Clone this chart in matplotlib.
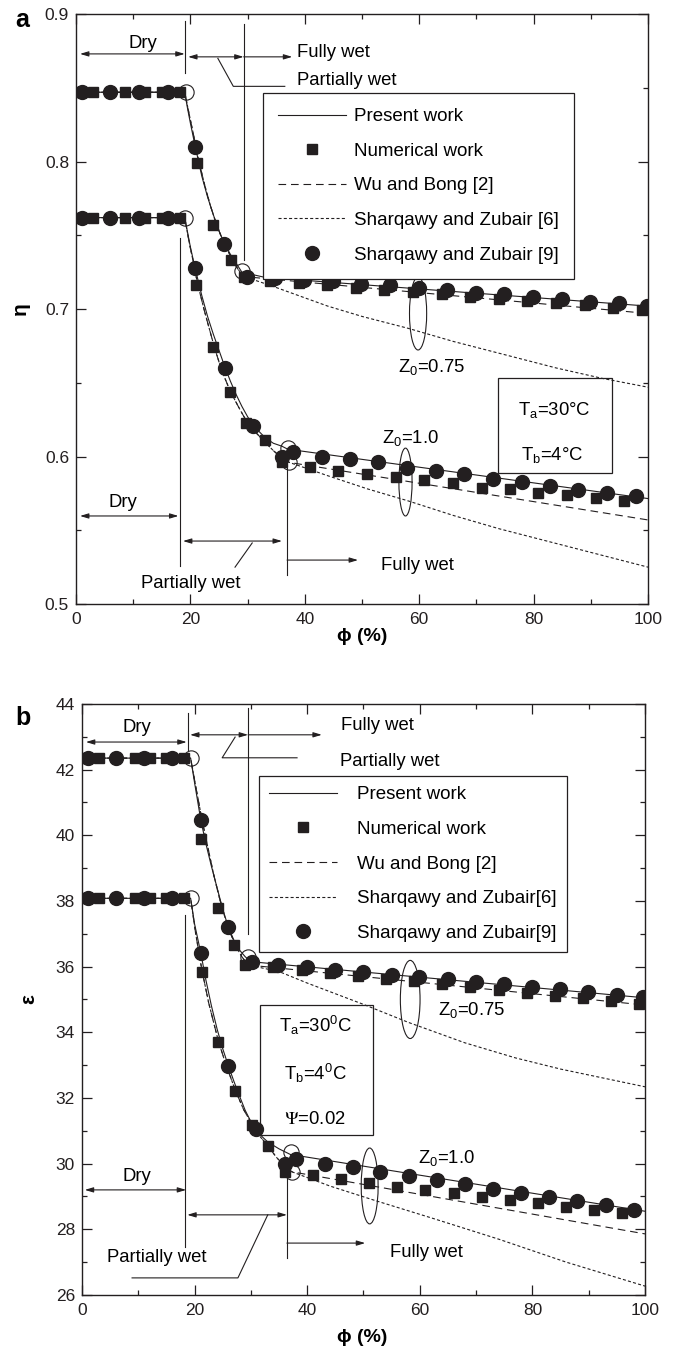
"""Fin efficiency (a) and effectiveness (b) versus relative humidity, redrawn."""

import matplotlib
matplotlib.use("Agg")
import matplotlib.pyplot as plt
from matplotlib.patches import Ellipse, Rectangle
from matplotlib.ticker import MultipleLocator

plt.rcParams["font.family"] = ["Liberation Sans", "DejaVu Sans"]
plt.rcParams["mathtext.default"] = "regular"
plt.rcParams["lines.scale_dashes"] = False

INK = "#231f20"
LW = 0.8

# ---------------- panel a: efficiency eta ----------------
dry_sq_phi = [0, 3, 8.5, 12, 15, 18.2]
dry_ci_phi = [1, 6, 11, 16]
a_eta_dry_075 = 0.847
a_eta_dry_100 = 0.762

# Z0 = 0.75
a075_line_phi = [0, 19, 19.5, 20, 20.8, 22, 23, 24, 25, 26, 27, 28, 29, 33, 100]
a075_line_eta = [0.847, 0.847, 0.836, 0.826, 0.811, 0.790, 0.776, 0.764, 0.753, 0.744,
                 0.737, 0.731, 0.725, 0.7215, 0.702]
a075_wu_phi = [0, 19, 19.9, 20.5, 21.3, 22.5, 23.5, 24.5, 25.5, 26.5, 27.5, 28.5, 29.4, 100]
a075_wu_eta = [0.847, 0.847, 0.830, 0.819, 0.803, 0.784, 0.770, 0.758, 0.748, 0.740,
               0.732, 0.726, 0.722, 0.697]
a075_s6_phi = [0, 19, 19.9, 20.5, 21.3, 22.5, 23.5, 24.5, 25.5, 26.5, 27.5, 28.5, 29.4,
               34, 39, 44, 50, 58, 66, 75, 84, 92, 100]
a075_s6_eta = [0.847, 0.847, 0.830, 0.819, 0.803, 0.784, 0.770, 0.758, 0.748, 0.740,
               0.732, 0.726, 0.722, 0.716, 0.709, 0.702, 0.695, 0.687, 0.678, 0.669,
               0.660, 0.653, 0.647]
a075_num_phi = [21.1, 24.0, 27.1, 29.4, 33.9, 38.9, 43.9, 48.9, 53.9, 58.9, 63.9, 68.9,
                73.9, 78.9, 83.9, 88.9, 93.9, 98.9]
a075_num_eta = [0.799, 0.757, 0.733, 0.722, 0.719, 0.7175, 0.716, 0.7145, 0.713, 0.7115,
                0.710, 0.7085, 0.707, 0.7055, 0.704, 0.7025, 0.701, 0.6995]
a075_s9_phi = [20.8, 25.9, 29.9, 34.8, 39.9, 44.9, 49.9, 54.9, 59.9, 64.9, 69.9, 74.9,
               79.9, 84.9, 89.9, 94.9, 99.9]
a075_s9_eta = [0.810, 0.744, 0.722, 0.721, 0.720, 0.719, 0.717, 0.716, 0.714, 0.713,
               0.711, 0.710, 0.708, 0.707, 0.705, 0.704, 0.702]

# Z0 = 1.0
a100_line_phi = [0, 19, 19.5, 20, 20.8, 22, 23, 24, 25, 26, 27, 28, 29, 30, 31, 32, 33,
                 34.5, 36, 37, 100]
a100_line_eta = [0.762, 0.762, 0.752, 0.742, 0.728, 0.709, 0.695, 0.683, 0.672, 0.661,
                 0.651, 0.642, 0.634, 0.627, 0.621, 0.617, 0.613, 0.609, 0.607, 0.605,
                 0.5715]
a100_wu_phi = [0, 19, 19.8, 20.5, 21.2, 22.5, 24.2, 25.5, 27, 28.5, 29.8, 31.5, 33, 34.5,
               36, 37.3, 100]
a100_wu_eta = [0.762, 0.762, 0.745, 0.732, 0.718, 0.698, 0.674, 0.658, 0.644, 0.633,
               0.624, 0.616, 0.610, 0.604, 0.599, 0.596, 0.557]
a100_s6_phi = [0, 19, 19.8, 20.5, 21.2, 22.5, 24.2, 25.5, 27, 28.5, 29.8, 31.5, 33, 34.5,
               36, 37.3, 44, 51, 58, 66, 74, 81, 88, 94, 100]
a100_s6_eta = [0.762, 0.762, 0.745, 0.732, 0.718, 0.698, 0.674, 0.658, 0.644, 0.633,
               0.624, 0.616, 0.610, 0.604, 0.599, 0.596, 0.587, 0.578, 0.570, 0.560,
               0.551, 0.544, 0.537, 0.531, 0.525]
a100_num_phi = [21.0, 24.0, 26.9, 29.8, 33.0, 36.0, 40.9, 45.8, 50.8, 55.9, 60.9, 65.9,
                71.0, 75.9, 80.8, 85.8, 90.9, 95.8]
a100_num_eta = [0.716, 0.674, 0.644, 0.623, 0.611, 0.596, 0.593, 0.590, 0.588, 0.586,
                0.584, 0.582, 0.579, 0.578, 0.575, 0.574, 0.572, 0.570]
a100_s9_phi = [20.8, 26.0, 31.0, 36.0, 37.9, 43.0, 47.9, 52.8, 57.9, 62.9, 67.8, 72.9,
               78.0, 82.9, 87.8, 92.8, 97.9]
a100_s9_eta = [0.728, 0.660, 0.621, 0.600, 0.603, 0.600, 0.598, 0.596, 0.592, 0.590,
               0.588, 0.585, 0.583, 0.580, 0.577, 0.575, 0.573]

a_knee_phi = [19.3, 19.1, 29.0, 37.0, 37.3]
a_knee_eta = [0.847, 0.762, 0.726, 0.606, 0.596]

# ---------------- panel b: effectiveness eps ----------------
b_dry_sq_phi = [0, 3, 9.4, 12, 15, 18.2]
b_eps_dry_075 = 42.35
b_eps_dry_100 = 38.08

b075_line_phi = [0, 19.3, 20, 21.1, 22, 23, 24, 25, 26, 27, 28, 29, 30, 100]
b075_line_eps = [42.35, 42.35, 41.6, 40.47, 39.75, 39.05, 38.4, 37.75, 37.2, 36.8, 36.5,
                 36.3, 36.15, 35.05]
b075_wu_phi = [0, 19.3, 20.3, 21.4, 22.4, 23.4, 24.4, 25.4, 26.4, 27.4, 28.4, 29.5, 100]
b075_wu_eps = [42.35, 42.35, 41.4, 40.4, 39.6, 38.8, 38.1, 37.5, 37.0, 36.6, 36.3, 36.05,
               34.83]
b075_s6_phi = [0, 19.3, 20.3, 21.4, 22.4, 23.4, 24.4, 25.4, 26.4, 27.4, 28.4, 29.5,
               35, 40, 50, 58, 68, 77, 85, 100]
b075_s6_eps = [42.35, 42.35, 41.4, 40.4, 39.6, 38.8, 38.1, 37.5, 37.0, 36.6, 36.3, 36.05,
               35.85, 35.5, 34.85, 34.3, 33.68, 33.22, 32.88, 32.34]
b075_num_phi = [21.1, 24.2, 27.0, 29.0, 34, 39, 44, 49, 54, 59, 64, 69, 74, 79, 84, 89,
                94, 99]
b075_num_eps = [39.9, 37.8, 36.66, 36.05, 35.98, 35.9, 35.8, 35.72, 35.63, 35.55, 35.46,
                35.37, 35.29, 35.2, 35.12, 35.03, 34.95, 34.86]
b075_s9_phi = [21.1, 25.9, 30.2, 34.8, 40, 45, 50, 55, 59.9, 65, 70, 75, 80, 84.9, 89.9,
               95, 99.6]
b075_s9_eps = [40.47, 37.2, 36.14, 36.06, 35.99, 35.91, 35.84, 35.76, 35.69, 35.61, 35.53,
               35.46, 35.38, 35.31, 35.23, 35.15, 35.08]

b100_line_phi = [0, 19.3, 20, 21.1, 22, 23, 24, 25, 26, 27, 28, 29, 30, 31, 32, 33, 35,
                 37, 100]
b100_line_eps = [38.08, 38.08, 37.3, 36.42, 35.6, 34.8, 34.1, 33.5, 32.98, 32.5, 32.05,
                 31.62, 31.28, 31.02, 30.82, 30.66, 30.45, 30.28, 28.55]
b100_wu_phi = [0, 19.3, 20.2, 21.3, 22.5, 24.2, 25.5, 27.2, 28.7, 30.2, 31.5, 33, 34.5,
               36, 37.3, 100]
b100_wu_eps = [38.08, 38.08, 37.0, 35.9, 34.9, 33.75, 33.05, 32.25, 31.65, 31.2, 30.85,
               30.55, 30.2, 29.92, 29.75, 27.86]
b100_s6_phi = [0, 19.3, 20.2, 21.3, 22.5, 24.2, 25.5, 27.2, 28.7, 30.2, 31.5, 33, 34.5,
               36, 37.3, 44, 52, 62, 74, 86, 100]
b100_s6_eps = [38.08, 38.08, 37.0, 35.9, 34.9, 33.75, 33.05, 32.25, 31.65, 31.2, 30.85,
               30.55, 30.2, 29.92, 29.75, 29.32, 28.88, 28.35, 27.7, 27.0, 26.27]
b100_num_phi = [21.3, 24.2, 27.2, 30.2, 33.0, 36.1, 41, 46, 51, 56, 61, 66, 71, 76, 81,
                86, 91, 96]
b100_num_eps = [35.84, 33.71, 32.2, 31.18, 30.54, 29.75, 29.66, 29.53, 29.41, 29.29, 29.2,
                29.1, 28.98, 28.9, 28.8, 28.68, 28.6, 28.5]
b100_s9_phi = [21.1, 26.0, 30.9, 36.1, 38.0, 43.2, 48.2, 53, 58.1, 63, 68, 73, 78, 83, 88,
               93, 98]
b100_s9_eps = [36.42, 32.98, 31.06, 30.0, 30.14, 30.0, 29.9, 29.75, 29.62, 29.5, 29.38,
               29.23, 29.1, 28.98, 28.86, 28.74, 28.6]

b_knee_phi = [19.3, 19.3, 29.5, 37.1, 37.3]
b_knee_eps = [42.35, 38.08, 36.3, 30.36, 29.75]

TEXT_FS = 13.3


def draw_set(ax, line, wu, s6, num, s9, labels):
    """One Z0 family: present line, Wu dashed, Sharqawy[6] dotted, two marker sets."""
    lab = labels if labels else ["_nolegend_"] * 5
    ax.plot(*line, color=INK, lw=LW, label=lab[0], zorder=2)
    ax.plot(*num, ls="none", marker="s", ms=7.5, color=INK, label=lab[1], zorder=3)
    ax.plot(*wu, color=INK, lw=LW, dashes=(5.5, 3.5), label=lab[2], zorder=2)
    ax.plot(*s6, color=INK, lw=LW, dashes=(2.2, 1.6), label=lab[3], zorder=2)
    ax.plot(*s9, ls="none", marker="o", ms=10, color=INK, label=lab[4], zorder=4)


def style_axes(ax, ylim, ymajor, yminor):
    ax.set_xlim(0, 100)
    ax.set_ylim(*ylim)
    ax.xaxis.set_major_locator(MultipleLocator(20))
    ax.xaxis.set_minor_locator(MultipleLocator(10))
    ax.yaxis.set_major_locator(MultipleLocator(ymajor))
    ax.yaxis.set_minor_locator(MultipleLocator(yminor))
    ax.tick_params(which="both", direction="in", top=True, right=True, colors=INK,
                   labelsize=12.5, width=0.9)
    ax.tick_params(which="major", length=7)
    ax.tick_params(which="minor", length=3.5)
    ax.tick_params(axis="x", pad=6)
    ax.tick_params(axis="y", pad=5)
    for s in ax.spines.values():
        s.set_linewidth(1.0)
        s.set_color(INK)


def harrow(ax, x0, x1, y, both=True):
    style = "<|-|>" if both else "-|>"
    ax.annotate("", xy=(x1, y), xytext=(x0, y),
                arrowprops=dict(arrowstyle=style + ",head_length=0.5,head_width=0.15",
                                color=INK, lw=LW, shrinkA=0, shrinkB=0), zorder=3)


def seg(ax, xs, ys):
    ax.plot(xs, ys, color=INK, lw=LW, zorder=2)


def legend(ax, anchor, labels_pad, pad):
    leg = ax.legend(loc="upper left", bbox_to_anchor=anchor, fontsize=13.5,
                    frameon=True, fancybox=False, framealpha=1, edgecolor=INK,
                    handlelength=3.6, handletextpad=labels_pad, labelspacing=0.93,
                    borderpad=pad, borderaxespad=0, numpoints=1)
    leg.get_frame().set_linewidth(0.9)
    return leg


fig = plt.figure(figsize=(6.78, 13.54), dpi=100)
ax_a = fig.add_axes([0.1121, 0.5539, 0.8437, 0.4357])
ax_b = fig.add_axes([0.1209, 0.0436, 0.8304, 0.4365])

# ---- panel a ----
draw_set(ax_a, (a075_line_phi, a075_line_eta), (a075_wu_phi, a075_wu_eta),
         (a075_s6_phi, a075_s6_eta),
         (dry_sq_phi + a075_num_phi, [a_eta_dry_075] * len(dry_sq_phi) + a075_num_eta),
         (dry_ci_phi + a075_s9_phi, [a_eta_dry_075] * len(dry_ci_phi) + a075_s9_eta),
         ["Present work", "Numerical work", "Wu and Bong [2]",
          "Sharqawy and Zubair [6]", "Sharqawy and Zubair [9]"])
draw_set(ax_a, (a100_line_phi, a100_line_eta), (a100_wu_phi, a100_wu_eta),
         (a100_s6_phi, a100_s6_eta),
         (dry_sq_phi + a100_num_phi, [a_eta_dry_100] * len(dry_sq_phi) + a100_num_eta),
         (dry_ci_phi + a100_s9_phi, [a_eta_dry_100] * len(dry_ci_phi) + a100_s9_eta),
         None)
ax_a.plot(a_knee_phi, a_knee_eta, ls="none", marker="o", ms=11, mfc="none", mec=INK,
          mew=0.8, zorder=5)
style_axes(ax_a, (0.5, 0.9), 0.1, 0.05)
legend(ax_a, (0.327, 0.866), 0.45, 0.8)

# upper annotations
seg(ax_a, [19.0, 19.0], [0.895, 0.860])
seg(ax_a, [29.3, 29.3], [0.893, 0.733])
harrow(ax_a, 0.7, 19.0, 0.873)
ax_a.text(11.7, 0.880, "Dry", fontsize=TEXT_FS, ha="center", va="center")
harrow(ax_a, 19.6, 29.3, 0.871)
harrow(ax_a, 29.3, 37.8, 0.871, both=False)
ax_a.text(38.6, 0.874, "Fully wet", fontsize=TEXT_FS, ha="left", va="center")
seg(ax_a, [24.8, 27.5, 36.5], [0.870, 0.851, 0.851])
ax_a.text(38.6, 0.855, "Partially wet", fontsize=TEXT_FS, ha="left", va="center")

# lower annotations
seg(ax_a, [18.2, 18.2], [0.748, 0.526])
harrow(ax_a, 0.7, 17.9, 0.5597)
ax_a.text(8.2, 0.569, "Dry", fontsize=TEXT_FS, ha="center", va="center")
harrow(ax_a, 18.7, 36.0, 0.5427)
seg(ax_a, [30.8, 27.8], [0.5414, 0.525])
ax_a.text(20.1, 0.514, "Partially wet", fontsize=TEXT_FS, ha="center", va="center")
seg(ax_a, [36.9, 36.9], [0.592, 0.5197])
harrow(ax_a, 36.9, 49.3, 0.5298, both=False)
ax_a.text(53.3, 0.5264, "Fully wet", fontsize=TEXT_FS, ha="left", va="center")

ax_a.add_patch(Ellipse((59.8, 0.697), 3.0, 0.0495, fill=False, ec=INK, lw=LW, zorder=3))
ax_a.add_patch(Ellipse((57.6, 0.5827), 2.3, 0.046, fill=False, ec=INK, lw=LW, zorder=3))
ax_a.text(56.3, 0.6607, "Z$_0$=0.75", fontsize=TEXT_FS, ha="left", va="center")
ax_a.text(53.5, 0.6125, "Z$_0$=1.0", fontsize=TEXT_FS, ha="left", va="center")
ax_a.add_patch(Rectangle((73.8, 0.5888), 19.9, 0.0644, fill=False, ec=INK, lw=0.9,
                         zorder=3))
ax_a.text(83.6, 0.6315, "T$_a$=30°C", fontsize=TEXT_FS, ha="center", va="center")
ax_a.text(83.2, 0.601, "T$_b$=4°C", fontsize=TEXT_FS, ha="center", va="center")

ax_a.set_xlabel("\u03d5 (%)", fontsize=14, fontweight="bold")
ax_a.set_ylabel("\u03b7", fontsize=15, fontweight="bold")
ax_a.xaxis.set_label_coords(0.5, -0.04)
ax_a.yaxis.set_label_coords(-0.08, 0.5)

# ---- panel b ----
draw_set(ax_b, (b075_line_phi, b075_line_eps), (b075_wu_phi, b075_wu_eps),
         (b075_s6_phi, b075_s6_eps),
         (b_dry_sq_phi + b075_num_phi, [b_eps_dry_075] * len(b_dry_sq_phi) + b075_num_eps),
         (dry_ci_phi + b075_s9_phi, [b_eps_dry_075] * len(dry_ci_phi) + b075_s9_eps),
         ["Present work", "Numerical work", "Wu and Bong [2]",
          "Sharqawy and Zubair[6]", "Sharqawy and Zubair[9]"])
draw_set(ax_b, (b100_line_phi, b100_line_eps), (b100_wu_phi, b100_wu_eps),
         (b100_s6_phi, b100_s6_eps),
         (b_dry_sq_phi + b100_num_phi, [b_eps_dry_100] * len(b_dry_sq_phi) + b100_num_eps),
         (dry_ci_phi + b100_s9_phi, [b_eps_dry_100] * len(dry_ci_phi) + b100_s9_eps),
         None)
ax_b.plot(b_knee_phi, b_knee_eps, ls="none", marker="o", ms=11, mfc="none", mec=INK,
          mew=0.8, zorder=5)
style_axes(ax_b, (26, 44), 2, 1)
legend(ax_b, (0.314, 0.878), 1.1, 0.55)

# upper annotations
seg(ax_b, [18.8, 18.8], [43.73, 42.6])
seg(ax_b, [29.5, 29.5], [43.87, 37.0])
harrow(ax_b, 0.7, 18.6, 42.84)
ax_b.text(9.7, 43.27, "Dry", fontsize=TEXT_FS, ha="center", va="center")
harrow(ax_b, 19.2, 29.5, 43.06)
harrow(ax_b, 29.5, 42.6, 43.06, both=False)
ax_b.text(46.0, 43.33, "Fully wet", fontsize=TEXT_FS, ha="left", va="center")
seg(ax_b, [27.2, 24.9, 38.2], [42.99, 42.36, 42.36])
ax_b.text(45.8, 42.24, "Partially wet", fontsize=TEXT_FS, ha="left", va="center")

# lower annotations
seg(ax_b, [18.3, 18.3], [37.57, 27.46])
harrow(ax_b, 0.5, 18.5, 29.2)
ax_b.text(9.7, 29.6, "Dry", fontsize=TEXT_FS, ha="center", va="center")
harrow(ax_b, 18.7, 36.4, 28.44)
seg(ax_b, [33.0, 27.7, 8.9], [28.44, 26.52, 26.52])
ax_b.text(13.3, 27.13, "Partially wet", fontsize=TEXT_FS, ha="center", va="center")
seg(ax_b, [36.4, 36.4], [29.6, 27.13])
harrow(ax_b, 36.4, 50.3, 27.58, both=False)
ax_b.text(54.7, 27.3, "Fully wet", fontsize=TEXT_FS, ha="left", va="center")

ax_b.add_patch(Ellipse((58.3, 35.0), 3.5, 2.38, fill=False, ec=INK, lw=LW, zorder=3))
ax_b.add_patch(Ellipse((51.1, 29.32), 3.0, 2.31, fill=False, ec=INK, lw=LW, zorder=3))
ax_b.text(63.2, 34.68, "Z$_0$=0.75", fontsize=TEXT_FS, ha="left", va="center")
ax_b.text(59.7, 30.17, "Z$_0$=1.0", fontsize=TEXT_FS, ha="left", va="center")
ax_b.add_patch(Rectangle((31.6, 30.87), 20.1, 3.96, fill=False, ec=INK, lw=0.9,
                         zorder=3))
ax_b.text(41.4, 34.22, "T$_a$=30$^0$C", fontsize=TEXT_FS, ha="center", va="center")
ax_b.text(41.4, 32.76, "T$_b$=4$^0$C", fontsize=TEXT_FS, ha="center", va="center")
ax_b.text(41.4, 31.33, r"$\mathrm{\Psi}$=0.02", fontsize=TEXT_FS, ha="center",
          va="center", math_fontfamily="stix")

ax_b.set_xlabel("\u03d5 (%)", fontsize=14, fontweight="bold")
ax_b.set_ylabel("\u03b5", fontsize=15, fontweight="bold")
ax_b.xaxis.set_label_coords(0.497, -0.058)
ax_b.yaxis.set_label_coords(-0.078, 0.5)

fig.text(15 / 678, 1 - 27 / 1354, "a", fontsize=18, fontweight="bold", va="baseline")
fig.text(15 / 678, 1 - 725 / 1354, "b", fontsize=18, fontweight="bold", va="baseline")

fig.savefig("out.png", dpi=100)
